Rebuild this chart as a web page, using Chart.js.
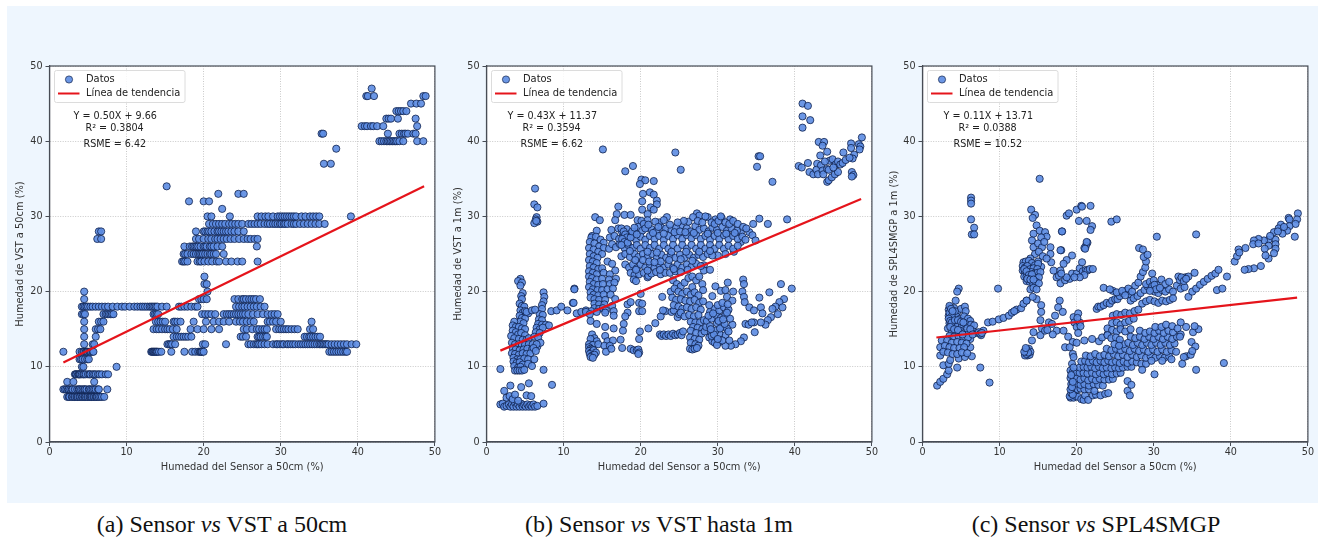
<!DOCTYPE html>
<html lang="es">
<head>
<meta charset="utf-8">
<title>Sensor vs VST y SPL4SMGP</title>
<script src="https://cdn.jsdelivr.net/npm/chart.js@4"></script>
<style>
    html, body { margin: 0; padding: 0; background: #fff; }
    #page { position: relative; width: 1322px; height: 540px; overflow: hidden; }
    #panel { position: absolute; left: 7px; top: 6px; width: 1311px; height: 497px; background: #eef6fe; }
    canvas { position: absolute; top: 6px; }
    .caption { position: absolute; top: 511px; width: 400px; text-align: center; font: 24px "Liberation Serif", serif; color: #111; }
</style>
</head>
<body>
<div id="page">
    <div id="panel"></div>
    <canvas id="chartA" width="435" height="497" style="left:7px"></canvas>
    <canvas id="chartB" width="435" height="497" style="left:444px"></canvas>
    <canvas id="chartC" width="435" height="497" style="left:880px"></canvas>
    <div class="caption" style="left:22px">(a) Sensor <i>vs</i> VST a 50cm</div>
    <div class="caption" style="left:459px">(b) Sensor <i>vs</i> VST hasta 1m</div>
    <div class="caption" style="left:896px">(c) Sensor <i>vs</i> SPL4SMGP</div>
</div>
<script>
// Tick labels and axis text
const xTicks = [0, 10, 20, 30, 40, 50];
const xTitle = 'Humedad del Sensor a 50cm (%)';
const yTitles = ['Humedad de VST a 50cm (%)', 'Humedad de VST a 1m (%)', 'Humedad de SPL4SMGP a 1m (%)'];

// Trend lines, read at both ends
const trendX = [1.8, 48.6];
const trendA = [10.56, 34];
const trendB = [12.15, 32.3];
const trendC = [13.9, 19.2];

// Fit text of each panel
const statsA = ['Y = 0.50X + 9.66', 'R² = 0.3804', 'RSME = 6.42'];
const statsB = ['Y = 0.43X + 11.37', 'R² = 0.3594', 'RSME = 6.62'];
const statsC = ['Y = 0.11X + 13.71', 'R² = 0.0388', 'RSME = 10.52'];

// Panel (a): the VST values are whole numbers, so the points sit on rows
const levelsA = [6, 7, 8, 9, 10, 11, 12, 13, 14, 15, 16, 17, 18, 19, 20, 21, 22, 24, 25, 26, 27, 28, 29, 30, 31, 32, 33, 34, 37, 39, 40, 41, 42, 43, 44, 45, 46, 47];
const row06 = [2.3,2.5,2.6,2.9,3.0,3.2,3.3,3.5,3.6,3.7,3.9,4.0,4.2,4.3,4.5,4.6,4.7,4.9,5.0,5.2,5.3,5.4,5.5,5.7,5.8,6.0,6.1,6.2,6.4,6.6,6.8,7.1];
const row07 = [1.8,2.0,2.2,2.4,2.5,2.7,2.9,3.0,3.3,3.6,3.8,3.9,4.1,4.3,4.5,4.6,4.8,5.1,5.2,5.4,5.6,5.8,6.0,6.3,6.4,7.5];
const row08 = [2.3, 3.1, 5.8];
const row09 = [3.3,3.4,3.5,3.7,3.8,3.9,4.0,4.2,4.4,4.5,4.7,5.0,5.2,5.3,5.6,5.8,6.0,6.3,6.5,6.8,7.3,7.6];
const row10 = [4.2, 4.4, 8.7];
const row11 = [3.9, 4.1, 4.3, 4.6, 4.9, 5.1];
const row12 = [1.8,3.9,4.2,4.4,4.5,4.7,4.8,4.9,5.0,5.2,5.3,5.4,5.6,5.7,13.2,13.3,13.4,13.5,13.6,13.7,13.8,13.9,14.0,14.2,14.5,15.8,17.5,18.5,18.9,19.3,19.5,19.6,19.7,19.8,20.0,36.3,36.6,36.9,37.2,37.5,37.8,38.1,38.4,38.6];
const row13 = [4.5,5.6,5.8,15.3,15.5,15.7,15.9,16.3,19.9,20.2,22.9,25.8,26.1,26.5,26.8,27.0,27.2,27.5,27.9,28.3,29.0,29.4,29.6,29.9,30.2,30.4,30.8,31.0,31.3,31.6,31.9,32.3,32.6,32.9,33.2,33.5,33.8,34.1,34.4,34.7,35.0,35.2,35.4,35.6,35.8,36.0,36.2,36.6,37.0,37.4,37.8,38.2,38.6,39.2,39.8];
const row14 = [4.5,6.0,16.1,16.5,16.8,17.1,17.4,17.7,18.0,18.4,24.8,25.1,25.5,27.0,27.2,27.4,27.7,28.0,28.2,33.1,33.4,33.7,33.9,34.2,34.5,34.8,35.1];
const row15 = [4.5,6.0,6.3,6.6,13.5,13.9,14.2,14.6,15.0,15.3,15.6,16.0,16.5,18.3,19.2,20.0,21.0,22.0,25.2,25.6,26.3,26.9,27.2,27.6,27.9,28.2,29.4,29.8,30.1,30.4,30.7,31.0,31.4,31.8,32.2,33.8,34.2];
const row16 = [4.5,6.4,6.7,7.0,13.8,14.1,14.4,14.7,15.0,16.1,16.3,16.6,17.0,18.7,20.3,21.3,22.0,22.6,23.3,24.2,24.7,25.1,25.6,26.1,26.5,28.3,28.6,29.0,29.4,30.0,34.0];
const row17 = [4.2,4.4,4.6,7.0,7.3,7.5,7.7,7.9,8.1,8.3,13.5,13.7,13.9,14.1,19.8,20.2,20.6,21.0,21.5,22.6,23.0,23.3,23.6,23.9,24.2,24.5,24.8,25.1,25.4,25.8,26.4,27.0,27.7,28.3,28.8,29.2,29.6];
const row18 = [4.2,4.4,4.6,4.8,5.0,5.3,5.6,6.0,6.4,6.8,7.2,7.6,8.2,8.8,9.4,9.8,10.4,11.0,11.4,11.8,12.1,12.4,12.7,13.0,13.2,13.4,13.6,13.8,14.0,14.6,15.2,16.8,17.1,17.5,17.9,18.4,18.9,19.2,24.2,24.6,25.0,25.3,25.7,26.1,26.5,26.9,27.4,27.9];
const row19 = [4.5,19.4,19.7,20.0,20.4,24.0,24.5,25.0,25.2,25.5,25.9,26.2,26.5,26.8,27.3];
const row20 = [4.5, 20.5];
const row21 = [20.1, 20.4];
const row22 = [20.1];
const row24 = [17.2,17.4,17.6,17.9,19.2,19.5,19.7,20.1,20.6,21.1,21.7,22.0,22.9,23.6,24.4,25.0,27.0];
const row25 = [17.4,17.6,17.9,18.4,18.7,19.0,19.3,19.5,19.7,19.9,20.2,20.5,20.8,21.0,21.3,21.6,22.6];
const row26 = [17.5,18.2,18.5,18.7,18.9,19.1,19.3,19.6,20.0,20.2,20.4,20.8,21.0,21.3,21.8,22.4,26.9];
const row27 = [6.2,6.7,19.0,19.4,20.0,20.6,21.0,21.5,21.8,22.2,22.6,23.0,23.5,24.0,24.6,25.2,25.7,26.1,26.6,27.0];
const row28 = [6.4,6.7,19.0,20.0,20.2,20.5,20.7,21.0,21.4,21.8,22.0,22.3,22.6,22.9,23.2,23.6,24.0,24.5,25.2];
const row29 = [20.7,21.2,21.6,22.0,22.4,22.8,23.3,23.7,24.1,24.5,25.0,25.8,26.2,26.6,27.0,27.4,27.9,28.3,28.6,29.0,29.3,29.6,29.9,30.1,30.4,30.6,30.9,31.4,31.7,32.0,32.5,33.0,33.5,34.0,34.5,35.0,35.7];
const row30 = [20.5,21.0,23.4,27.0,27.5,28.0,28.4,29.0,29.6,29.9,30.2,30.5,30.8,31.1,31.4,31.7,32.0,32.7,33.2,33.8,34.2,34.6,35.0,39.1];
const row31 = [22.4];
const row32 = [18.1, 20.0, 20.7];
const row33 = [21.9, 24.5, 25.2];
const row34 = [15.2];
const row37 = [35.6, 36.5];
const row39 = [37.2];
const row40 = [42.8,43.1,43.4,43.7,43.9,44.1,44.3,44.5,44.7,44.9,45.1,45.4,45.9,47.7,48.5];
const row41 = [35.3,35.5,43.9,45.4,45.7,46.0,46.2,46.5,47.2,47.5];
const row42 = [40.5,40.9,41.2,41.7,42.0,42.5,43.3,47.7];
const row43 = [43.7,44.0,44.3,45.2,47.5];
const row44 = [45.0,45.3,45.6,45.9,46.3];
const row45 = [46.9,47.6,48.2];
const row46 = [41.1,41.3,42.1,48.5,48.8];
const row47 = [41.8];
const sensorRowsA = [row06,row07,row08,row09,row10,row11,row12,row13,row14,row15,row16,row17,row18,row19,row20,row21,row22,row24,row25,row26,row27,row28,row29,row30,row31,row32,row33,row34,row37,row39,row40,row41,row42,row43,row44,row45,row46,row47];

// Panel (b): [sensor, VST] pairs, by group of points
const bBottom = [[1.8,5],[2.1,5.1],[2.3,4.7],[2.6,4.8],[2.9,5],[3.1,4.7],[3.3,5],[3.5,4.7],[3.7,5.2],[3.9,4.7],[4.1,5],[4.3,4.7],[4.5,5.1],[4.7,4.7],[4.9,4.9],[5.1,4.7],[5.3,5],[5.5,4.7],[5.7,4.9],[5.9,4.7],[6.1,5],[6.3,4.7],[6.6,4.8],[7.4,5.1],[2.6,5.9],[3,6.1],[3.4,5.7],[3.7,6.3],[4.1,5.5],[5.2,6.2],[5.8,6.1],[2.3,6.8],[3.1,7.5],[4.5,7.3],[5.5,7.8],[8.5,7.6]];
const bLeft = [[4.4,21.7],[4.1,21.4],[4.6,21.2],[4.4,20.8],[4.7,19.8],[4.5,19.4],[4.6,19],[4.3,18.4],[4.6,18.1],[4.9,18],[4.4,17.5],[4.7,17.2],[5,17.4],[5.4,17.1],[4.3,16.8],[4.6,16.5],[5,16.4],[4.4,16],[4.8,15.8],[3.6,16],[3.4,15.5],[3.8,15.3],[4.2,15.3],[4.6,15.1],[5,15],[3.4,14.8],[3.8,14.6],[4.1,14.3],[4.5,14.5],[5,14.2],[3.2,14.1],[3.6,13.8],[4.2,13.7],[4.7,13.6],[5.2,13.6],[5.5,13.8],[3.3,13.2],[3.7,13],[4.2,13],[4.6,12.9],[5,12.9],[5.5,13],[6,13],[3.4,12.5],[3.8,12.3],[4.3,12.2],[4.8,12.3],[5.3,12.4],[5.9,12.3],[6.6,12.7],[3.3,11.8],[3.7,11.7],[4.2,11.6],[4.7,11.8],[5.2,11.7],[5.7,11.8],[3.5,11.2],[4,11],[4.4,11],[4.9,11.1],[5.4,11],[6.2,11],[3.5,10.7],[3.9,10.5],[4.3,10.6],[4.7,10.3],[5.4,10.4],[5.9,10.1],[3.6,10.1],[4.1,9.9],[4.4,10],[3.7,9.5],[4,9.5],[4.3,9.5],[4.6,9.5],[4.9,9.6],[7.4,9.6],[1.8,9.7]];
const bArm = [[7.4,19.9],[7.5,19.3],[7.4,18.7],[7.2,18.2],[7.2,17.7],[6.9,17],[7.3,16.9],[6.8,16.3],[7.2,16.2],[6.7,15.7],[7.2,15.6],[7.7,15.6],[8.1,15.5],[6.5,15.2],[6.9,15],[7.3,15.2],[6.4,14.6],[6.9,14.5],[6.2,14],[6.7,13.9],[7,13.2],[6.5,13],[6.1,12.5],[6.4,12.1],[5.2,17.3],[5.9,17.5],[6.3,17.6],[8.4,17.4],[9.1,17.5],[9.7,18],[10.5,17.5],[11.2,18.5],[11.4,20.4],[11.7,17.1],[12.3,17.3],[12.9,17.5],[6.3,33.7],[6.2,31.6],[6.6,31.2],[6.5,29.9],[6.4,29.6],[6.6,29.3],[6.2,29.1],[6.45,29.4]];
const bColumn = [[14.1,29.9],[14.7,29.5],[14.3,28.1],[13.7,27.4],[13.6,27.2],[14.2,27.3],[14.8,26.9],[15.2,26.5],[13.4,26.6],[14,26.4],[14.6,26],[15.2,25.8],[13.3,25.8],[13.9,25.6],[14.5,25.3],[15,25],[13.4,25],[13.9,24.7],[14.4,24.5],[13.3,24.2],[13.8,24],[14.3,23.8],[15.9,25.7],[15.7,24],[13.4,23.4],[13.9,23.2],[14.5,23],[15,23.1],[16.3,23.7],[16.7,22.8],[13.3,22.7],[13.8,22.5],[14.3,22.3],[15.2,22.5],[16,22.3],[13.3,22],[13.7,21.8],[14.3,21.6],[15,21.7],[15.9,21.6],[16.8,21.7],[13.4,21.3],[13.9,21],[14.5,20.9],[15.1,21],[16,21],[16.6,21.2],[13.3,20.6],[13.8,20.3],[14.4,20.2],[15,20.2],[15.7,20.3],[16.4,20.4],[13.5,19.9],[13.9,19.6],[14.5,19.5],[15.2,19.6],[16.1,19.6],[13.5,19.2],[14,19],[14.6,18.9],[15.4,18.9],[16.7,19],[14,18.4],[14.6,18.3],[15.3,18.3],[16.3,18.1],[14,17.8],[14.6,17.7],[15.1,17.8],[15.5,17.5],[13.6,17.4],[14.3,17.3],[15.4,17.2],[12.9,17.3],[13.4,17],[16.5,17.4],[11.4,20.3],[11.3,18.5]];
const bColumnLow = [[13.5,16.1],[14.3,15.7],[15.4,15.3],[16.5,15.1],[17.8,15.7],[17.7,14.8],[13.7,14.3],[14,13.8],[13.5,13.7],[14.3,13.4],[15.4,14.1],[15.7,13.4],[16.4,13.5],[17.4,13.6],[13.3,13],[13.8,12.9],[14.5,13],[15.3,12.8],[16,12.8],[13.3,12.6],[13.5,12.4],[13.7,12.3],[13.3,12.1],[13.6,11.9],[13.9,12.2],[14.2,11.9],[13.4,11.7],[13.7,11.5],[14,11.6],[13.5,11.3],[13.8,11.2],[15.5,12],[16.2,12.4],[17.6,12.5],[18.7,12.4],[19.1,12.2],[19.5,12.2],[19.7,12.3],[19.8,11.9],[19.7,11.7],[19.8,13.7],[19.9,14.7],[21,15.1],[21.9,15.8],[22.6,16.7],[23.2,17.4],[18.3,18.3],[18.7,18.6],[18.3,17.2],[18,16.7],[19.8,18.5],[20.2,18.4],[19.8,17.4],[20.2,17.4],[16.5,16.8],[20,19.7],[22.8,19.3],[23.9,20],[22.9,17.5],[24,17.3],[24.3,17.5],[24.8,16.6],[25,17],[22.5,14.3],[22.7,14.1],[23,14.3],[23.3,14.1],[23.6,14.3],[23.9,14.1],[24.2,14.4],[24.5,14.2],[24.8,14.3],[25.1,14.5],[25.3,14.2],[25.5,14.7]];
const bTops = [[15.1,38.9],[18,36],[19,36.7],[24.5,38.5],[25.2,36.2],[20.1,34.9],[20.6,34.8],[21.7,34.7],[19.9,34.3],[20.3,33],[21.2,33.2],[21.7,32.9],[22.1,32.1],[22.1,31.6],[20.2,32],[17.1,31.3],[16.9,30.3],[17.9,30.2],[18.7,30.2],[21.3,31.2],[21.7,30.9],[20.2,30.9],[20.9,30.3],[16.7,29.5],[19.6,29.5],[20.1,29.4],[20.9,29.5],[23.4,29.9],[22.4,29.2],[25.2,28.8],[27.3,30.4],[27.6,30.1],[28.7,29.9],[29.7,29.6],[30.5,29.8],[31.6,29.6],[34.6,29],[35.4,29.7],[36.5,29],[39,29.6],[35.1,36.6],[35.3,38],[35.5,38],[37.1,34.6],[34.1,27.9],[34.5,27.5],[34.9,26.8],[33,27.9],[33,26.6],[32.1,25.3],[30,24.8],[28.2,23.5],[28.2,22.8],[29,22.9]];
const bUpperA = [[16.2,28.2],[17.1,28.4],[17.6,27.9],[18.2,28.3],[18.7,27.7],[19.2,27.9],[19.7,28.6],[20.2,28.1],[20.8,28.5],[21.4,28.3],[22,28],[22.7,28.5],[23.3,28.4],[24,28.2],[24.6,28.5],[26,28.4],[26.5,28],[27.1,28.7],[27.6,28.2],[28.2,28.4],[28.8,28],[29.3,28.5],[29.9,28.2],[30.6,28.6],[31.2,28.1],[31.8,28.4],[32.5,28.1],[16,27.2],[16.6,27.4],[17.2,27],[17.8,27.4],[18.3,26.9],[18.9,27.3],[19.4,26.9],[20,27.3],[20.6,26.9],[21.2,27.4],[21.8,27],[22.4,27.4],[23,26.9],[23.6,27.4],[24.2,27],[24.8,27.5],[25.4,27],[26,27.5],[26.6,27.1],[27.2,27.5],[27.8,27],[28.4,27.4],[29,26.9],[29.6,27.4],[30.2,27],[30.8,27.5],[31.4,27],[32,27.4],[32.6,27],[33.2,27.3]];
const bUpperB = [[16.3,26.3],[16.8,25.9],[17.3,26.3],[17.9,25.8],[18.4,26.2],[19,25.8],[19.5,26.2],[20,25.7],[20.6,26.2],[21.2,25.8],[21.8,26.2],[22.4,25.7],[23,26.2],[23.6,25.7],[24.2,26.2],[24.8,25.7],[25.4,26.2],[26,25.7],[26.6,26.2],[27.2,25.7],[27.8,26.2],[28.4,25.7],[29,26.2],[29.6,25.7],[30.2,26.2],[30.8,25.7],[31.4,26.1],[32,25.7],[32.6,26.1],[17.5,24.7],[18,25],[18.6,24.6],[19.2,25],[19.7,24.6],[20.3,25],[20.9,24.6],[21.5,25],[22.1,24.5],[22.7,24.9],[23.3,24.5],[23.9,24.9],[24.5,24.5],[25.1,24.9],[25.7,24.5],[26.3,24.9],[26.9,24.5],[27.5,24.9],[28.1,24.6],[28.7,25],[29.3,24.8],[18,23.6],[18.5,23.2],[19,23.6],[19.5,23.1],[20,23.6],[20.6,23.2],[21.2,23.6],[21.8,23.2],[22.4,23.6],[23,23.2],[23.6,23.6],[24.2,23.2],[24.8,23.6],[25.4,23.2],[26,23.6],[26.6,23.3],[27.2,23.7],[27.8,23.4],[18.7,22.5],[19.2,22.2],[19.1,21.6],[19.4,21.4],[19.8,22.3],[20.4,22.5],[20.9,21.9],[21,22.1],[21.4,22.4],[22,22.6],[22.6,22.3],[23.2,22.5],[23.8,22.5],[24.5,22.7],[25.2,22.6]];
const bUpperC = [[26.2,29.3],[26.8,29.9],[27.4,29.4],[28,29.2],[28.4,30],[29.2,29.2],[29.6,29],[30.1,29.4],[30.4,30],[31,29.2],[31.5,29],[32,29.4],[32.6,29],[33.3,28.6],[33.7,28.4],[25.6,29.4],[24.8,29.2],[23.8,28.9],[23,29.5],[21.9,29.3],[17.5,28.4],[17.8,28],[18,27.6],[18.2,27.2],[17.6,27],[17.9,26.6],[18.3,26.5],[17.5,26.2],[18.7,27.2],[18.9,28],[19.2,28.5],[19.5,27.6],[20.4,29],[20.6,28.4],[21,28.9],[21.6,27.8],[22.3,28.6],[23,27.7],[24.4,27.9],[25.1,28],[25.8,27.9],[26.9,27.8],[28.7,27.7],[30,27.8],[31.1,27.7],[32.2,27.8],[33.6,26.9],[19.3,24.2],[20.3,24.2],[21.1,24],[22.6,24],[23.7,24.2],[25.2,24.3],[26.7,24.1],[18.6,25.4],[20.9,25.3],[22.1,25.2],[24,25.3],[25.9,25.3],[27.6,25.3],[29,25.4],[31,25],[21.8,23.9],[19.4,22.9],[20.9,22.8],[22.5,22.9],[24.3,23],[26.1,22.9]];
const bLowerA = [[24.2,21.5],[24.7,21],[25.2,20.7],[25.7,21.2],[26.2,21.8],[26.7,22],[27.2,21.5],[27.6,22],[28,21],[26.7,20.6],[28.1,20.2],[24.4,20.4],[24.9,20],[25.4,19.7],[26,20],[26.5,19.6],[27,19.9],[27.5,19.5],[24.1,19.2],[24.6,18.9],[25.2,19],[25.8,18.8],[26.4,18.7],[27,18.9],[27.6,18.5],[28.1,18.7],[24.3,18.2],[24.9,18],[25.4,17.7],[26,17.9],[26.6,17.7],[27.2,17.9],[27.8,17.6],[25.2,17.2],[25.7,16.7],[26.3,16.9],[26.9,16.7],[27.5,16.9],[26.5,16],[27.1,15.9],[27.7,15.9],[28.2,16.2],[26.8,15.3],[27.4,15.2],[28,15],[26.5,14.8],[27.2,14.5],[27.9,14.4],[28.3,14.7],[26.4,13.9],[27,13.7],[27.6,13.6],[26.5,13.2],[27.1,13],[27.5,12.8],[26.4,12.4],[26.7,12.3],[27,12.4],[27.3,12.5]];
const bLowerB = [[29.7,20.7],[31.3,21.2],[30.4,20.1],[31,20.2],[32,20],[29.3,19.4],[31.2,19.3],[31.9,18.8],[33.3,21.6],[33.4,21],[33.2,20],[33.4,19.3],[33.5,18.6],[34.1,17.9],[34.7,17.5],[35.4,19.2],[36.7,19.9],[38.2,21],[39.6,20.4],[38.6,19],[38,18.6],[37.5,18],[38.4,17.9],[37.1,17.7],[35.6,17.9],[35.8,17.1],[37.8,17],[36.9,16.6],[36.5,16.2],[36.2,15.6],[35.6,15.9],[34.7,15.9],[33.6,15.7],[34,15.6],[34.4,15.9],[34.8,14.6],[33.4,13.9],[33,13.4],[32.3,13],[31.7,12.8],[31,12.8],[30.2,13.3],[29.6,13.9],[29.1,14.6],[28.5,15.3],[29.9,15.8],[31.9,15.6],[31,14.2],[30.2,14.4],[28.6,16.1],[29.2,16.4],[29.8,16.9],[30.4,16.5],[31,16.9],[31.6,16.4],[29,17.3],[29.6,17.7],[30.2,17.5],[30.8,17.9],[31.4,17.6],[28.9,18.2],[30,18.2],[30.6,18.5],[31.3,18.3],[29,15.4],[30.6,15.3],[31.2,15.1],[29.7,14.8],[28.9,13.9],[30.6,13.5],[29.3,13.4],[29.6,13.2],[29.9,12.9],[29.2,14.1],[29.5,14.3],[30,13.7],[29.1,15],[30.3,15.1],[30.9,15.7],[31.4,14.7],[31.5,13.5],[28.8,16.8],[30.1,16.1],[30.7,16.3],[31.2,17.2],[29.4,17.1]];
const bRight = [[41,45],[41.7,44.7],[41,43.3],[42,42.8],[41,41.8],[43.1,39.9],[43.8,39.9],[43.6,39.4],[44.2,38.6],[43.3,38.1],[48.7,40.5],[47.3,39.7],[48.3,39.6],[48.5,39.3],[47.3,39.1],[48.4,38.9],[46.3,38.5],[47.7,38.2],[47.5,37.7],[40.5,36.7],[40.9,36.5],[41.7,37.1],[41.9,35.9],[42.4,35.6],[42.9,37],[42.8,36.2],[43,35.6],[43.4,36.8],[43.6,36.1],[43.7,35.6],[44.2,34.6],[44.4,34.8],[44.8,35.2],[45.2,35.6],[45.6,35.9],[44.2,36.3],[44.5,37.4],[44.9,37.6],[45.3,36.9],[45.6,37.3],[45.9,36.9],[46.2,37.1],[46.6,37.5],[47.1,37.8],[47.4,35.9],[47.6,35.5],[47.4,35.3],[43.9,37.3],[44.4,36.2],[45,36.5]];

// Panel (c): [sensor, SPL4SMGP] pairs, by group of points
const cLeft = [[1.9,7.5],[2.3,8],[2.7,8.4],[3.2,9],[3.4,9.5],[2.7,10.2],[3.4,10.4],[4.5,9.9],[2.3,11.5],[2.3,12.6],[2.5,13.5],[3.6,10.9],[4.7,11.1],[5.5,11.3],[6.4,11.4],[6.2,12.6],[6.2,13.7],[4.7,20.4],[4.5,20],[4.3,18.8],[3.6,17.9],[3.4,17.6],[3.7,17.2],[4.1,17.8],[4.5,17.3],[5,17.7],[5.5,18],[5.6,17.4],[3.4,16.8],[3.9,16.4],[4.4,16.7],[4.9,16.4],[5.4,16.7],[5.9,16.4],[6.2,16.1],[3.5,15.8],[4,15.5],[4.6,15.6],[5.1,15.4],[5.6,15.7],[6.3,15.6],[6.7,15.5],[3.3,15.1],[3.8,14.8],[4.3,14.6],[4.9,14.8],[5.5,14.5],[6,14.6],[6.6,14.7],[7.1,14.5],[7.6,14.2],[7.9,14.8],[3.5,14.1],[4.1,14],[4.7,14],[5.3,13.9],[5.9,13.9],[3.2,13.5],[3.8,13.2],[4.5,13.3],[5.1,13.2],[5.7,13.1],[2.9,12.8],[3.5,12.6],[4.1,12.5],[4.8,12.5],[5.4,12.6],[2.7,12],[3.3,11.9],[3.9,11.7],[4.5,11.7],[5.1,11.9],[5.8,11.8],[7.5,9.9],[8.7,7.9],[3.5,17.2],[3.8,16.7],[4.2,17.4],[3.5,18.1],[3.7,17.7],[3.9,17.4],[3.4,16.4],[3.6,16.1],[3.8,15.9],[4.2,16.2],[4.6,16.2],[5,16],[5.3,15.9],[5.8,15.1],[6.2,15],[6.5,14.3],[7.3,14.6],[7.5,14.4],[7.7,14.5],[3.6,15.3],[4.1,15],[4.6,14.9],[5.2,14.3]];
const cBridge = [[8.5,15.9],[9.1,16],[9.9,16.3],[10.5,16.5],[11.2,16.8],[11.6,17.2],[12.2,17.6],[12.8,17.8],[13.5,18.8],[9.8,20.4],[13.1,18.4],[11.9,17.4]];
const cOutliers = [[15.2,35],[6.3,32.5],[6.3,32.1],[6.3,31.7],[6.3,29.6],[6.7,28.5],[6.4,27.6],[6.7,27.6],[18.1,28],[18,25.5],[18.7,30.1],[19,30.4],[20,30.9],[20.6,31.4],[20.7,31.3],[21.8,31.4],[20.3,29.4],[21.3,29.4],[22,28.7],[21.8,28.2],[21.4,26.5],[21.2,26.1],[21,25.8],[24.5,29.3],[25.2,29.6],[28.1,25.8],[28.6,25.6],[30.4,27.3],[35.5,27.6]];
const cTower = [[14.1,30.9],[14.6,30.2],[14.8,28.8],[15.2,28.1],[15.9,27.9],[14.4,27.7],[14.2,26.8],[14.4,25.9],[14.6,25],[14,24.4],[14,23.5],[16.1,27.3],[16.6,25.9],[16.6,25],[16.7,23.9],[17,22.8],[17.4,21.9],[17.9,21.1],[18.5,21.5],[19.1,21.7],[19.4,22.4],[20,22.4],[20.4,23.1],[20.7,23.9],[19.4,24.8],[18.7,24.2],[18.3,23.7],[17.9,22.8],[21.3,26.6],[21.1,25.7],[18.1,28],[17.9,25.5],[14.3,29.8],[15.4,27.2],[15,26.4],[15.5,25.9],[15.8,26.6],[15.1,25.3],[15.6,24.7],[15,24],[15.4,23.3],[16.1,24.4],[18.7,21.9],[17.7,22.1],[18,22.4],[20.8,22.7],[21.2,22.9],[21.4,22.8],[21.7,23],[22.1,23],[21,22.2],[20.4,21.9],[19.7,21.9]];
const cClump = [[13.1,23.9],[13.4,24],[13.8,24.1],[14.2,23.8],[14.6,23.5],[15,23.7],[13,23.4],[13.3,23.2],[13.6,23.4],[14,23],[14.4,23.1],[14.9,23],[13,22.8],[13.3,22.6],[13.7,22.5],[14.1,22.6],[14.5,22.4],[14.9,22.5],[15.3,22.6],[13.2,22],[13.5,22],[13.9,21.9],[14.3,22],[14.7,21.8],[15.1,21.9],[13.5,21.4],[13.9,21.3],[14.3,21.2],[14.7,21.3],[15.1,21.1],[14,20.3],[14.4,20.5],[14.8,20.3],[14.8,19],[14.3,19.3],[13.5,18.8],[15.4,18.2],[15.4,17.3],[15.3,16.2],[15.5,15.1],[15.3,14.2],[14.4,14.6],[14.2,13.5],[13.8,12.4],[13.3,11.7],[13.4,11.9],[13.6,11.5],[13.9,11.6],[14,12],[13.5,12.3],[17.8,18.8],[17.6,17.9],[18.2,17.3],[17.2,16.8],[16.4,15.9],[16.8,15.7],[15.9,14.8],[17.4,14.8],[18.3,14.8],[18.9,14],[19.6,16.6],[19.7,15.9],[20,15.3],[20.2,14.5],[19.5,13.3],[20,13.2],[18.5,12.6],[19.1,12.6],[19.5,11.7],[21,13.5],[22,13.7],[22.9,13.4],[23.3,13.9],[24,14.3],[16.9,14.3],[16.2,14.9],[13.2,23],[13.5,22.7],[13.8,22.2],[14.2,22.3],[13.6,21.7],[14,21.6],[14.4,21.6],[13.3,11.5],[13.5,11.7],[13.7,11.9],[13.2,12],[13.4,12.5]];
const cStrip = [[22.6,17.7],[22.8,18],[23.1,18],[23.5,18.2],[23.9,18.5],[24.3,18.4],[24.6,18.8],[25,19],[25.3,19],[25.6,19.4],[26,19.8],[26.4,20.1],[26.7,20.4],[27,19.6],[27.2,20],[27.6,20.8],[28,21.2],[28.3,22],[28.6,22.6],[28.9,23.2],[29,24],[28.7,24.6],[29.2,24.9],[29.8,22.4],[24.7,20.1],[25.2,19.9],[25.9,20.1],[26.3,19.5],[23.5,20.5],[24.3,20.3],[27,18.8],[27.4,19.1],[27.9,19.4],[28.3,19.8],[28.8,20.2],[29.2,20.7],[29.7,20.4],[30.1,20],[30.6,19.8],[31.1,20.2],[31.5,20],[32,20.3],[32.5,20],[28.5,18.4],[29,18.7],[29.5,18.9],[30.1,18.7],[30.6,18.5],[31.1,18.8],[31.6,18.7],[32.1,18.9],[32.5,19.1],[29,21],[29.5,21.3],[30,21.5],[30.4,20.9],[31,21.6],[31.5,21],[32,21.3],[33.2,22],[33.7,21.7],[34.1,21.9],[34.5,22],[33,20.8],[33.5,20.4],[34,20.6],[34.5,19.3],[35,20],[35.5,20.4],[36,20.9],[36.5,21.3],[37,21.7],[37.5,22.1],[38,22.4],[38.4,22.9],[35.3,22.5],[39.5,22],[38.2,20.2],[38.9,20.4],[33.5,15.9],[34.2,15.3],[33.4,21.5],[33.6,21.9],[33.9,21.4],[34.2,21.7],[29.8,20.7],[30.1,20.9],[30.3,20.3],[29.5,20.1],[30.8,20.5]];
const cRight = [[48.7,30.4],[47.5,29.8],[47.6,29.6],[48.6,29.6],[48.4,29],[47.6,28.7],[46.5,28.9],[46.2,28.4],[47.3,28.1],[45.6,27.9],[46.7,27.7],[48.3,27.3],[44.9,26.9],[44.3,26.8],[43.6,27],[43,26.8],[42.9,26.3],[43.6,26.4],[45.8,26.9],[45.8,26.3],[45.8,25.7],[44.9,26.1],[44.4,25.7],[41.9,25.8],[41,25.6],[45.6,25.1],[44.9,24.4],[44.5,24.8],[43.9,23.4],[43,23.1],[42.3,23],[41.8,22.9],[40.5,24],[40.8,24.7],[41.1,25.2],[46.1,28],[45.1,27.4],[46.9,28.6]];
const cBandA = [[19.2,5.9],[19.4,6.2],[19.6,5.9],[19.9,6.1],[20.2,6],[20.6,5.7],[20.9,5.6],[21.1,6.2],[21.5,5.6],[22.1,6.2],[22.5,6.3],[23.1,6.2],[23.7,6.4],[24.1,6.5],[26.6,6.8],[26.9,6.2],[19.4,6.8],[19.7,6.9],[20.1,7],[20.5,7.1],[21,7],[21.6,7],[22.3,6.8],[19.3,7.7],[19.6,7.9],[20,7.8],[20.5,7.6],[21,7.7],[21.6,7.5],[22.2,7.7],[22.8,7.6],[23.4,7.5],[19.2,8.5],[19.6,8.7],[20,8.5],[20.5,8.3],[21,8.5],[21.5,8.2],[22,8.4],[22.5,8.2],[23,8.4],[23.6,8.3],[24.2,8.3],[24.7,8.4],[19.2,9.5],[19.5,9.3],[20,9.3],[20.4,9.2],[20.9,9.2],[21.4,9.1],[22,9.2],[22.5,9],[23,9.2],[23.5,9],[24,9.2],[24.6,9],[25.2,9.1],[25.7,9.2],[19.4,10.4],[19.6,11.3],[20.4,9.9],[20.9,10],[21.4,9.9],[21.9,10],[22.4,9.8],[22.9,10],[23.4,9.8],[23.9,9.9],[24.5,9.8],[25,9.9],[25.5,9.8],[26,9.9],[26.6,10],[27.1,10],[20.6,10.7],[21.1,10.8],[21.6,10.6],[22.1,10.8],[22.6,10.6],[23.1,10.8],[23.6,10.6],[24.1,10.8],[24.6,10.6],[25.1,10.7],[25.6,10.5],[26.1,10.7],[26.6,10.5],[27.2,10.7],[27.8,10.6],[28.4,10.4],[29,10.4],[19.1,6.1],[19.3,6.5],[19.5,6.3],[19.2,7],[19.4,7.3],[19.5,8],[19.3,8.9],[19.6,9.9]];
const cBandB = [[21.2,11.5],[21.8,11.4],[22.4,11.7],[23,11.4],[23.6,11.6],[24.2,11.4],[24.8,11.7],[25.4,11.4],[26,11.6],[26.6,11.3],[27.2,11.6],[27.8,11.3],[28.4,11.5],[29,11.2],[29.6,11.4],[30.2,11.2],[30.8,11.4],[31.4,11.2],[32,11.4],[23.9,12.4],[24.5,12.2],[25.1,12.4],[25.7,12.2],[26.3,12.4],[26.9,12.1],[27.5,12.4],[28.1,12.1],[28.7,12.3],[29.3,12],[29.9,12.3],[30.5,12],[31.1,12.3],[31.7,12],[32.3,12.2],[32.9,12],[25.5,13.2],[26.1,13],[26.7,13.2],[27.3,12.9],[27.9,13.2],[28.5,12.9],[29.1,13.2],[29.7,12.9],[30.3,13.2],[30.9,12.9],[31.5,13.2],[32.1,12.9],[32.7,13.1],[27,14],[27.6,13.8],[28.2,14],[28.8,13.7],[29.4,14],[30,13.7],[30.6,14],[31.2,13.7],[31.8,14],[32.4,13.7],[33,14],[28.2,14.8],[28.9,14.5],[29.5,14.7],[30.1,14.5],[30.7,14.8],[31.3,14.5],[31.9,14.8],[32.5,14.6],[30.2,15.3],[31,15.3],[31.6,15.6],[32.4,15.4],[33.1,15.1],[33.5,14.3],[33.4,14],[35.1,14.6],[35.8,15],[35.3,15.4],[34.9,13.3],[35.4,12.7],[34.2,11.4],[34.8,11.6],[35,12.1],[33.9,11.3],[33.7,10.4],[30.1,9],[35.5,9.6],[39.1,10.5],[32.3,11],[31.1,10.8],[29.7,10.8]];
const cColumn = [[24.7,16.8],[25.2,17],[25.8,16.9],[26.3,17.2],[26.9,17.1],[27.5,17.4],[28,17.6],[24.6,15.8],[25.2,15.9],[25.7,15.6],[26.3,15.9],[26.8,16.1],[27.4,16.4],[24,15.1],[24.6,14.9],[25.2,14.7],[25.7,15],[26.3,14.7],[27,15],[24,14.2],[24.5,13.8],[25.1,13.9],[25.6,13.6],[24.9,13],[25.5,12.8],[28.5,9.6],[26.6,8.1],[27.1,7.6],[20.2,17.1],[20.4,15.9],[20.1,16.5],[20.5,15.4]];

// Join the rows of panel (a) and the groups of (b) and (c) into chart points
const pointsA = sensorRowsA.flatMap((xs, i) => xs.map(x => ({ x: x, y: levelsA[i] })));
const toPoints = groups => groups.flat().map(p => ({ x: p[0], y: p[1] }));
const pointsB = toPoints([bBottom, bLeft, bArm, bColumn, bColumnLow, bTops, bUpperA, bUpperB, bUpperC, bLowerA, bLowerB, bRight]);
const pointsC = toPoints([cLeft, cBridge, cOutliers, cTower, cClump, cStrip, cRight, cBandA, cBandB, cColumn]);

const dotFill = 'rgba(92,140,226,0.9)';
const dotEdge = 'rgba(10,28,70,0.85)';
const lineRed = '#e5141b';

// White plot background, frame, inset legend and fit text
const insetPlugin = {
    id: 'inset',
    beforeDraw(chart) {
        const area = chart.chartArea;
        chart.ctx.fillStyle = '#fff';
        chart.ctx.fillRect(area.left, area.top, area.right - area.left, area.bottom - area.top);
    },
    afterDraw(chart, args, opts) {
        const ctx = chart.ctx;
        const area = chart.chartArea;
        ctx.save();
        ctx.strokeStyle = '#474c55';
        ctx.lineWidth = 1.2;
        ctx.strokeRect(area.left, area.top, area.right - area.left, area.bottom - area.top);

        // legend box
        const lx = area.left + 5;
        const ly = area.top + 4.5;
        ctx.beginPath();
        ctx.roundRect(lx, ly, 130.5, 32, 2);
        ctx.fillStyle = 'rgba(255,255,255,0.85)';
        ctx.fill();
        ctx.strokeStyle = '#dcdcdc';
        ctx.lineWidth = 1;
        ctx.stroke();

        ctx.beginPath();
        ctx.arc(lx + 14.5, ly + 9, 3.6, 0, Math.PI * 2);
        ctx.fillStyle = dotFill;
        ctx.fill();
        ctx.strokeStyle = dotEdge;
        ctx.lineWidth = 0.8;
        ctx.stroke();

        ctx.beginPath();
        ctx.moveTo(lx + 3.5, ly + 23);
        ctx.lineTo(lx + 25, ly + 23);
        ctx.strokeStyle = lineRed;
        ctx.lineWidth = 2;
        ctx.stroke();

        ctx.font = '9.9px "DejaVu Sans", sans-serif';
        ctx.fillStyle = '#222';
        ctx.textBaseline = 'middle';
        ctx.textAlign = 'left';
        ctx.fillText(chart.data.datasets[1].label, lx + 31.5, ly + 8.5);
        ctx.fillText(chart.data.datasets[0].label, lx + 31.5, ly + 23);

        // fit text
        ctx.font = '9.6px "DejaVu Sans", sans-serif';
        opts.lines.forEach((line, i) => {
            ctx.fillText(line, area.left + opts.offsets[i], area.top + [50.5, 62, 78][i]);
        });
        ctx.restore();
    }
};

function makeChart(id, points, trend, yTitle, stats, offsets, titlePad) {
    new Chart(document.getElementById(id), {
        type: 'scatter',
        data: {
            datasets: [
                {
                    type: 'line',
                    label: 'Línea de tendencia',
                    data: trendX.map((x, i) => ({ x: x, y: trend[i] })),
                    borderColor: lineRed,
                    borderWidth: 2.2,
                    pointRadius: 0,
                    order: 0
                },
                {
                    label: 'Datos',
                    data: points,
                    backgroundColor: dotFill,
                    borderColor: dotEdge,
                    borderWidth: 0.9,
                    pointRadius: 3.6,
                    order: 1
                }
            ]
        },
        plugins: [insetPlugin],
        options: {
            responsive: false,
            animation: false,
            events: [],
            layout: { padding: { left: 0, top: 60, right: 7, bottom: 25 } },
            plugins: {
                legend: { display: false },
                tooltip: { enabled: false },
                inset: { lines: stats, offsets: offsets }
            },
            scales: {
                x: {
                    type: 'linear',
                    min: 0,
                    max: 50,
                    afterBuildTicks: axis => { axis.ticks = xTicks.map(v => ({ value: v })); },
                    afterFit: axis => { axis.height = 36; },
                    grid: { color: '#c9c9c9', tickColor: '#474c55', tickLength: 4, tickBorderDash: [] },
                    border: { color: '#474c55', width: 1.2, dash: [1, 1.5] },
                    ticks: { color: '#333', font: { family: 'DejaVu Sans', size: 9.6 }, padding: 1, maxRotation: 0 },
                    title: { display: true, text: xTitle, color: '#333', font: { family: 'DejaVu Sans', size: 9.85 }, padding: { top: 0, bottom: 5 } }
                },
                y: {
                    type: 'linear',
                    min: 0,
                    max: 50,
                    afterBuildTicks: axis => { axis.ticks = xTicks.map(v => ({ value: v })); },
                    afterFit: axis => { axis.width = 42.5; },
                    grid: { color: '#c9c9c9', tickColor: '#474c55', tickLength: 4, tickBorderDash: [] },
                    border: { color: '#474c55', width: 1.2, dash: [1, 1.5] },
                    ticks: { color: '#333', font: { family: 'DejaVu Sans', size: 9.6 }, padding: 3 },
                    title: { display: true, text: yTitle, color: '#333', font: { family: 'DejaVu Sans', size: 9.85 }, padding: { top: titlePad, bottom: 0 } }
                }
            }
        }
    });
}

document.addEventListener('DOMContentLoaded', function() {
    makeChart('chartA', pointsA, trendA, yTitles[0], statsA, [24, 36, 34], 8);
    makeChart('chartB', pointsB, trendB, yTitles[1], statsB, [21, 36, 34], 9);
    makeChart('chartC', pointsC, trendC, yTitles[2], statsC, [21, 36, 31], 9);
});
</script>
</body>
</html>
